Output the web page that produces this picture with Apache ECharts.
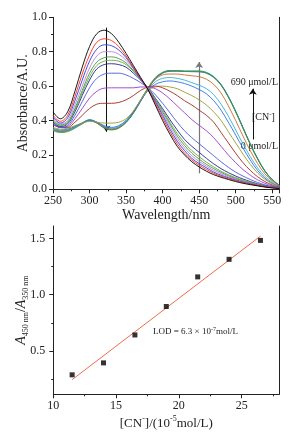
<!DOCTYPE html>
<html>
<head>
<meta charset="utf-8">
<style>html,body{margin:0;padding:0;background:#fff;}#c{width:302px;height:432px;}</style>
<script src="https://cdn.jsdelivr.net/npm/echarts@6/dist/echarts.min.js"></script>
</head>
<body>
<div id="c"></div>
<script>
// ---------- top panel: absorption spectra ----------
const wavelengths = [250,260,270,280,290,300,310,320,330,340,350,360,370,380,390,400,410,420,430,440,450,460,470,480,490,500,510,520,530,540,550,560];
const A0  = [.45,.41,.45,.57,.71,.83,.905,.925,.905,.855,.79,.72,.65,.58,.49,.40,.32,.25,.20,.16,.13,.105,.085,.07,.057,.045,.035,.027,.02,.013,.008,.004];
const A1  = [.43,.395,.43,.54,.67,.78,.855,.875,.865,.83,.775,.71,.645,.58,.50,.415,.335,.265,.21,.17,.14,.115,.093,.076,.062,.05,.039,.03,.022,.015,.009,.005];
const A2  = [.42,.385,.415,.515,.635,.745,.815,.84,.835,.81,.765,.705,.64,.58,.51,.43,.35,.28,.225,.18,.15,.125,.10,.082,.067,.054,.042,.032,.023,.016,.01,.006];
const A3  = [.41,.38,.40,.49,.60,.705,.775,.80,.80,.785,.75,.70,.64,.585,.515,.44,.365,.295,.24,.195,.162,.135,.11,.09,.073,.058,.045,.034,.025,.017,.011,.006];
const A4  = [.40,.375,.39,.47,.575,.675,.74,.765,.77,.76,.735,.69,.64,.585,.52,.45,.38,.31,.255,.21,.175,.145,.12,.098,.079,.063,.049,.037,.027,.018,.011,.006];
const A5  = [.395,.37,.385,.46,.56,.655,.72,.745,.75,.745,.725,.685,.64,.59,.525,.46,.39,.325,.27,.225,.19,.158,.13,.105,.085,.068,.053,.04,.029,.019,.012,.007];
const A6  = [.39,.365,.38,.45,.545,.635,.70,.725,.73,.725,.71,.675,.635,.59,.53,.47,.405,.345,.29,.25,.215,.18,.148,.12,.097,.077,.06,.045,.032,.021,.013,.007];
const A7  = [.385,.36,.37,.43,.51,.59,.645,.67,.675,.675,.665,.645,.62,.59,.55,.50,.445,.39,.34,.30,.265,.23,.195,.16,.128,.10,.077,.057,.04,.026,.016,.008];
const A8  = [.38,.36,.365,.41,.47,.53,.57,.588,.59,.59,.59,.59,.595,.595,.585,.56,.525,.485,.445,.405,.372,.34,.30,.25,.20,.155,.115,.082,.055,.035,.02,.01];
const A9  = [.375,.36,.36,.39,.43,.47,.495,.50,.50,.505,.52,.545,.575,.595,.60,.59,.57,.545,.515,.49,.46,.43,.39,.33,.27,.21,.155,.11,.073,.045,.025,.012];
const A10 = [.36,.35,.355,.37,.385,.395,.39,.385,.385,.39,.41,.455,.52,.575,.595,.60,.595,.585,.565,.545,.52,.49,.45,.40,.335,.27,.205,.145,.095,.058,.032,.015];
const A11 = [.355,.345,.35,.365,.385,.40,.39,.37,.36,.37,.40,.45,.515,.575,.61,.625,.63,.625,.615,.60,.58,.555,.515,.46,.39,.315,.24,.17,.11,.065,.035,.016];
const A12 = [.35,.34,.345,.36,.385,.40,.39,.365,.355,.365,.395,.45,.515,.58,.625,.645,.65,.645,.635,.62,.605,.585,.55,.495,.425,.345,.265,.19,.125,.075,.04,.018];
const A13 = [.345,.335,.34,.36,.385,.40,.385,.36,.35,.36,.395,.45,.52,.585,.64,.665,.67,.67,.665,.66,.655,.64,.61,.56,.485,.40,.31,.225,.15,.09,.048,.02];
const A14 = [.34,.33,.335,.355,.38,.40,.385,.355,.345,.355,.39,.445,.52,.59,.65,.68,.69,.688,.685,.685,.685,.675,.65,.605,.535,.45,.355,.26,.175,.105,.055,.022];
const A15 = [.345,.335,.34,.36,.385,.405,.39,.36,.35,.36,.39,.445,.515,.585,.645,.678,.69,.69,.688,.688,.688,.68,.655,.61,.54,.455,.36,.265,.18,.108,.057,.023];
const A16 = [.35,.338,.343,.362,.386,.402,.388,.358,.348,.358,.388,.442,.512,.582,.642,.675,.686,.687,.685,.684,.683,.676,.652,.608,.538,.452,.358,.262,.178,.106,.056,.022];
const spectra = [A0,A1,A2,A3,A4,A5,A6,A7,A8,A9,A10,A11,A12,A13,A14,A15,A16];
const spectraColors = ['#000000','#ff2a1a','#2c3fd8','#c07de0','#3f9a3f','#6aa83a','#22228e','#4a5ad8','#9a3ccc','#a02a1e','#9c9a2e','#2f6fe0','#2fb2d2','#cc6a2a','#3c9c3c','#1f7f86','#1e5a9e'];
const xTicksTop = [250,300,350,400,450,500,550];
const yTicksTop = [0,0.2,0.4,0.6,0.8,1.0];

// ---------- bottom panel: calibration ----------
const cnConc = [11.5,14,16.5,19,21.5,24,26.5];
const ratio  = [0.288,0.394,0.642,0.895,1.158,1.314,1.482];
const fitX = [11.5,26.5];
const fitY = [0.245,1.52];
const xLabelsBottom = [10,15,20,25];
const yLabelsBottom = [0.5,1.0,1.5];
const yMinorBottom = [0.25,0.75,1.25];

const FONT = "'Liberation Serif','Times New Roman',serif";
const TXT = '#222';

const chart = echarts.init(document.getElementById('c'), null, {renderer:'canvas'});

const series = spectra.map((arr, k) => ({
  type:'line', xAxisIndex:0, yAxisIndex:0,
  data: wavelengths.map((w,i)=>[w,arr[i]]),
  showSymbol:false, smooth:0.35, silent:true,
  lineStyle:{width:0.9, color:spectraColors[k]},
  z: 20 - k
}));
series[0].markLine = {
  silent:true, symbol:['none','arrow'], symbolSize:6, animation:false,
  label:{show:false},
  lineStyle:{type:'solid', width:1, color:'#111'},
  data:[
    [{coord:[323,0.94]},{coord:[323,0.335]}],
    [{coord:[450,0.093],lineStyle:{color:'#777',width:1.2}},{coord:[450,0.74]}],
    [{coord:[523.5,0.29]},{coord:[523.5,0.585]}]
  ]
};
series.push({
  type:'scatter', xAxisIndex:1, yAxisIndex:1,
  data: cnConc.map((x,i)=>[x,ratio[i]]),
  symbol:'rect', symbolSize:5, itemStyle:{color:'#000'}, z:5
});
series.push({
  type:'line', xAxisIndex:1, yAxisIndex:1,
  data: fitX.map((x,i)=>[x,fitY[i]]),
  showSymbol:false, lineStyle:{color:'#f26a4e', width:1}, z:4
});

const axisCommon = {
  nameMoveOverlap:false,
  axisLine:{show:true, lineStyle:{color:'#222', width:1}},
  axisTick:{show:true, inside:false, length:4, lineStyle:{color:'#222'}},
  minorTick:{show:true, splitNumber:2, length:2, lineStyle:{color:'#222'}},
  splitLine:{show:false},
  axisLabel:{fontFamily:FONT, fontSize:12, color:TXT, margin:6}
};

chart.setOption({
  animation:false,
  backgroundColor:'#fff',
  grid:[
    {left:53, right:22.5, top:17.3, bottom:242.7},
    {left:53.3, right:22.7, top:226, bottom:37.7}
  ],
  xAxis:[
    Object.assign({}, axisCommon, {
      type:'value', gridIndex:0, min:250, max:560, interval:50,
      name:'Wavelength/nm', nameLocation:'middle', nameGap:19,
      nameTextStyle:{fontFamily:FONT, fontSize:14, color:TXT},
      axisLabel:Object.assign({}, axisCommon.axisLabel, {
        customValues: xTicksTop
      })
    }),
    Object.assign({}, axisCommon, {
      type:'value', gridIndex:1, min:10, max:28, interval:5,
      axisTick:Object.assign({}, axisCommon.axisTick, {customValues: xLabelsBottom}),
      name:'{n|[CN}{sup|-}{n|]/(10}{sup|-5}{n|mol/L)}', nameLocation:'middle', nameGap:21,
      nameTextStyle:{fontFamily:FONT, fontSize:13, color:TXT,
        rich:{n:{fontFamily:FONT, fontSize:13, color:TXT, lineHeight:16},
              sup:{fontFamily:FONT, fontSize:8, color:TXT, verticalAlign:'top', lineHeight:16}}},
      axisLabel:Object.assign({}, axisCommon.axisLabel, {customValues: xLabelsBottom, formatter:v=>String(v)})
    })
  ],
  yAxis:[
    Object.assign({}, axisCommon, {
      type:'value', gridIndex:0, min:0, max:1, interval:0.2,
      name:'Absorbance/A.U.', nameLocation:'middle', nameGap:23,
      nameTextStyle:{fontFamily:FONT, fontSize:14, color:TXT},
      axisLabel:Object.assign({}, axisCommon.axisLabel, {
        customValues: yTicksTop, formatter:v=>v.toFixed(1)
      })
    }),
    Object.assign({}, axisCommon, {
      type:'value', gridIndex:1, min:0.115, max:1.61,
      minorTick:{show:false},
      axisTick:{show:true, length:4, lineStyle:{color:'#222'}, customValues:yLabelsBottom},
      name:'{i|A}{sub|450 nm}{n|/}{i|A}{sub|350 nm}', nameLocation:'middle', nameGap:23,
      nameTextStyle:{fontFamily:FONT, fontSize:14, color:TXT,
        rich:{i:{fontFamily:FONT, fontSize:14, fontStyle:'italic', color:TXT, lineHeight:18},
              n:{fontFamily:FONT, fontSize:14, color:TXT, lineHeight:18},
              sub:{fontFamily:FONT, fontSize:8, color:TXT, verticalAlign:'bottom', lineHeight:18}}},
      axisLabel:Object.assign({}, axisCommon.axisLabel, {
        customValues: yLabelsBottom, formatter:v=>v.toFixed(1), margin:8
      })
    }),
    {
      type:'value', gridIndex:1, min:0.115, max:1.61, position:'left',
      axisLine:{show:false}, splitLine:{show:false}, axisLabel:{show:false},
      axisTick:{show:true, length:2, lineStyle:{color:'#222'}, customValues:yMinorBottom}
    },
    {
      type:'value', gridIndex:0, min:0, max:1, position:'right',
      axisLine:{show:true, lineStyle:{color:'#222', width:1}},
      axisTick:{show:false}, axisLabel:{show:false}, splitLine:{show:false}
    },
    {
      type:'value', gridIndex:1, min:0.115, max:1.61, position:'right',
      axisLine:{show:true, lineStyle:{color:'#222', width:1}},
      axisTick:{show:false}, axisLabel:{show:false}, splitLine:{show:false}
    }
  ],
  graphic:[
    {type:'text', right:24, top:77, style:{text:'690 μmol/L', font:"10px 'Liberation Serif', serif", fill:TXT}},
    {type:'text', left:252, top:111, style:{text:'{n|[CN}{s|-}{n|]}', fill:TXT,
      rich:{n:{fontFamily:FONT, fontSize:10, lineHeight:12, color:TXT}, s:{fontFamily:FONT, fontSize:7, verticalAlign:'top', lineHeight:12, color:TXT}}}},
    {type:'text', right:24, top:141, style:{text:'0 μmol/L', font:"10px 'Liberation Serif', serif", fill:TXT}},
    {type:'text', left:153, top:326, style:{text:'{n|LOD = 6.3 × 10}{s|-7}{n|mol/L}', fill:TXT,
      rich:{n:{fontFamily:FONT, fontSize:9, lineHeight:12, color:TXT}, s:{fontFamily:FONT, fontSize:6, verticalAlign:'top', lineHeight:12, color:TXT}}}}
  ],
  series: series
});
</script>
</body>
</html>
